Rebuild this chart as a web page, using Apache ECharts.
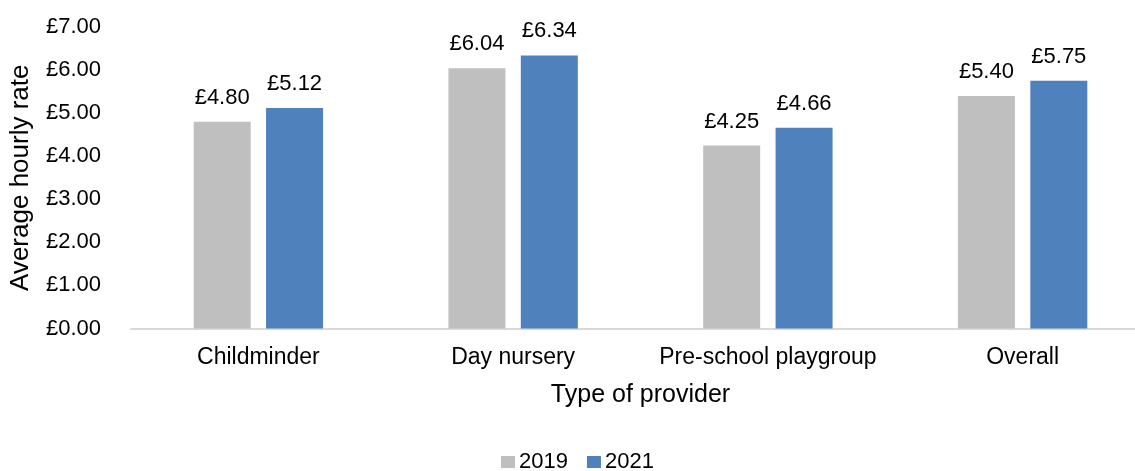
<!DOCTYPE html>
<html>
<head>
<meta charset="utf-8">
<script src="https://cdn.jsdelivr.net/npm/echarts@6/dist/echarts.min.js"></script>
<style>
  html, body { margin: 0; padding: 0; background: #ffffff; }
  #chart { width: 1135px; height: 471px; }
</style>
</head>
<body>
<div id="chart"></div>
<script>
// Average hourly childcare rate by provider type
const categories = ['Childminder', 'Day nursery', 'Pre-school playgroup', 'Overall'];
const rates2019 = [4.80, 6.04, 4.25, 5.40];
const rates2021 = [5.12, 6.34, 4.66, 5.75];
const yTicks = [0, 1, 2, 3, 4, 5, 6, 7];

const FONT = '"Liberation Sans", Arial, sans-serif';
const TEXT = '#000000';

const fmt = v => '£' + Number(v).toFixed(2);

const chart = echarts.init(document.getElementById('chart'), null, { renderer: 'canvas' });

const labelStyle = {
  show: true,
  position: 'top',
  distance: 13,
  fontFamily: FONT,
  fontSize: 22,
  color: TEXT,
  formatter: p => fmt(p.value)
};

chart.setOption({
  animation: false,
  backgroundColor: '#ffffff',
  // the plot runs slightly past the right edge of the canvas
  grid: { left: 131, top: 27, width: 1019, bottom: 142.5, containLabel: false, outerBoundsMode: 'none' },
  legend: {
    top: 451,
    left: 501,
    padding: 0,
    itemWidth: 14,
    itemHeight: 12,
    itemGap: 19,
    icon: 'rect',
    textStyle: { fontFamily: FONT, fontSize: 22, color: TEXT, padding: [0, 0, 0, -1] },
    data: ['2019', '2021']
  },
  xAxis: {
    type: 'category',
    data: categories,
    name: 'Type of provider',
    nameLocation: 'middle',
    nameGap: 54,
    nameTextStyle: { fontFamily: FONT, fontSize: 25, color: TEXT },
    axisLine: { show: true, lineStyle: { color: '#D9D9D9', width: 2 } },
    axisTick: { show: false },
    axisLabel: { fontFamily: FONT, fontSize: 23, color: TEXT, margin: 18, interval: 0 }
  },
  yAxis: {
    type: 'value',
    min: yTicks[0],
    max: yTicks[yTicks.length - 1],
    interval: 1,
    name: 'Average hourly rate',
    nameLocation: 'middle',
    nameGap: 97,
    nameRotate: 90,
    nameTextStyle: { fontFamily: FONT, fontSize: 26, color: TEXT },
    axisLine: { show: false },
    axisTick: { show: false },
    splitLine: { show: false },
    axisLabel: { fontFamily: FONT, fontSize: 22, color: TEXT, margin: 30, formatter: v => fmt(v) }
  },
  series: [
    {
      name: '2019',
      type: 'bar',
      data: rates2019,
      barWidth: 57,
      barGap: '27%',
      itemStyle: { color: '#BFBFBF' },
      label: labelStyle
    },
    {
      name: '2021',
      type: 'bar',
      data: rates2021,
      barWidth: 57,
      barGap: '27%',
      itemStyle: { color: '#4F81BD' },
      label: labelStyle
    }
  ]
});
</script>
</body>
</html>
